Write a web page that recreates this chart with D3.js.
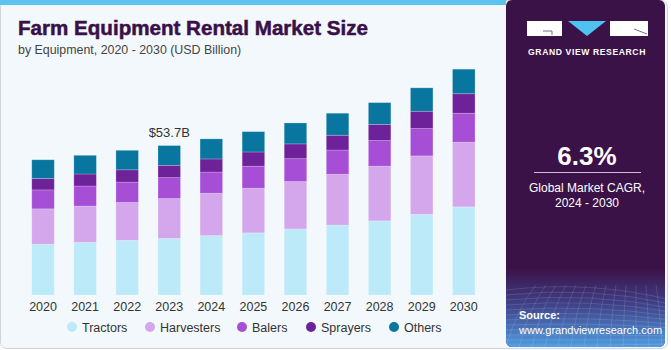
<!DOCTYPE html>
<html>
<head>
<meta charset="utf-8">
<script src="https://cdn.jsdelivr.net/npm/d3@7"></script>
<style>
  html, body { margin: 0; padding: 0; background: #ffffff; }
  svg { display: block; font-family: "Liberation Sans", Arial, sans-serif; }
</style>
</head>
<body>
<svg id="chart" width="671" height="350"></svg>
<script>
// chart data (USD Billion)
const years = ['2020', '2021', '2022', '2023', '2024', '2025', '2026', '2027', '2028', '2029', '2030'];
const segments = ['Tractors', 'Harvesters', 'Balers', 'Sprayers', 'Others'];
const tractors   = [18.2, 18.9, 19.6, 20.3, 21.3, 22.3, 23.7, 25.1, 26.6, 28.9, 31.6];
const harvesters = [12.7, 13.0, 13.6, 14.3, 15.2, 16.0, 17.0, 18.2, 19.6, 21.0, 23.2];
const balers     = [6.8, 7.2, 7.3, 7.5, 7.6, 7.9, 8.2, 8.7, 9.2, 9.8, 10.4];
const sprayers   = [4.1, 4.3, 4.4, 4.4, 4.7, 5.1, 5.3, 5.3, 5.8, 6.2, 7.0];
const others     = [6.7, 6.7, 7.0, 7.1, 7.2, 7.3, 7.5, 7.9, 7.8, 8.4, 8.8];
const colors = ['#bdeaf9', '#d4a7ec', '#a64fd6', '#6e2299', '#08769f'];
const annotation = { year: '2023', label: '$53.7B' };

const svg = d3.select('#chart');
const W = 671, H = 350;
const panelX = 506;

// ---- background panels ----
svg.append('rect')
  .attr('x', 0.5).attr('y', 0.5)
  .attr('width', W - 4).attr('height', H - 2)
  .attr('rx', 6)
  .attr('fill', '#f3f8fc')
  .attr('stroke', '#d0d4d8');

svg.append('rect')
  .attr('x', 0).attr('y', 0)
  .attr('width', panelX).attr('height', 5)
  .attr('fill', '#5bc5ef');

const defs = svg.append('defs');
const grad = defs.append('linearGradient')
  .attr('id', 'srcGrad')
  .attr('x1', 0).attr('y1', 0).attr('x2', 0).attr('y2', 1);
grad.append('stop').attr('offset', '0%').attr('stop-color', '#3b1248');
grad.append('stop').attr('offset', '45%').attr('stop-color', '#3f3f86');
grad.append('stop').attr('offset', '100%').attr('stop-color', '#4f9be0');

defs.append('clipPath').attr('id', 'panelClip')
  .append('rect')
  .attr('x', panelX).attr('y', 0)
  .attr('width', W - 6 - panelX).attr('height', 347)
  .attr('rx', 6);

const panel = svg.append('g').attr('clip-path', 'url(#panelClip)');
panel.append('rect')
  .attr('x', panelX).attr('y', 0)
  .attr('width', W - panelX).attr('height', 347)
  .attr('fill', '#3b1248');
panel.append('rect')
  .attr('x', panelX).attr('y', 268)
  .attr('width', W - panelX).attr('height', 79)
  .attr('fill', 'url(#srcGrad)');

// faint mesh over the source area
const mesh = panel.append('g')
  .attr('stroke', '#ffffff')
  .attr('stroke-opacity', 0.12)
  .attr('fill', 'none');
d3.range(0, 14).forEach(i => {
  mesh.append('path').attr('d', `M${panelX},${290 + i * 5} Q${590},${280 + i * 6} ${W},${300 + i * 4}`);
  mesh.append('path').attr('d', `M${panelX + i * 13},347 Q${panelX + 10 + i * 12},310 ${panelX + 30 + i * 10},285`);
});

// ---- logo ----
const logo = svg.append('g');
logo.append('rect').attr('x', 527).attr('y', 21).attr('width', 35).attr('height', 15).attr('fill', '#ffffff');
logo.append('path').attr('d', 'M543,31 H552 V35').attr('stroke', '#7a6a86').attr('stroke-width', 1).attr('fill', 'none');
logo.append('path').attr('d', 'M568,21 H606 L587,36 Z').attr('fill', '#4fc3f0');
logo.append('rect').attr('x', 610).attr('y', 21).attr('width', 38).attr('height', 15).attr('fill', '#ffffff');
logo.append('path').attr('d', 'M634,29 L647,34').attr('stroke', '#7a6a86').attr('stroke-width', 1);
logo.append('text')
  .attr('x', 587).attr('y', 55)
  .attr('text-anchor', 'middle')
  .attr('fill', '#ffffff')
  .attr('font-size', 8.6)
  .attr('font-weight', 'bold')
  .attr('letter-spacing', 0.6)
  .text('GRAND VIEW RESEARCH');

// ---- CAGR ----
svg.append('text')
  .attr('x', 587).attr('y', 165)
  .attr('text-anchor', 'middle')
  .attr('fill', '#ffffff')
  .attr('font-size', 26)
  .attr('font-weight', 'bold')
  .text('6.3%');
svg.append('line')
  .attr('x1', 534).attr('x2', 641)
  .attr('y1', 172.5).attr('y2', 172.5)
  .attr('stroke', '#c9bfd0').attr('stroke-width', 1);
svg.append('text')
  .attr('x', 587).attr('y', 192)
  .attr('text-anchor', 'middle')
  .attr('fill', '#ffffff')
  .attr('font-size', 12)
  .text('Global Market CAGR,');
svg.append('text')
  .attr('x', 587).attr('y', 207)
  .attr('text-anchor', 'middle')
  .attr('fill', '#ffffff')
  .attr('font-size', 12)
  .text('2024 - 2030');

// ---- source ----
svg.append('text')
  .attr('x', 519).attr('y', 319)
  .attr('fill', '#ffffff')
  .attr('font-size', 11)
  .attr('font-weight', 'bold')
  .text('Source:');
svg.append('text')
  .attr('x', 519).attr('y', 334)
  .attr('fill', '#ffffff')
  .attr('font-size', 11)
  .text('www.grandviewresearch.com');

// ---- titles ----
svg.append('text')
  .attr('x', 18).attr('y', 35)
  .attr('fill', '#3a1048')
  .attr('font-size', 20)
  .attr('font-weight', 'bold')
  .attr('stroke', '#3a1048')
  .attr('stroke-width', 0.5)
  .attr('textLength', 350)
  .attr('lengthAdjust', 'spacingAndGlyphs')
  .text('Farm Equipment Rental Market Size');
svg.append('text')
  .attr('x', 18).attr('y', 54)
  .attr('fill', '#444444')
  .attr('font-size', 12.4)
  .text('by Equipment, 2020 - 2030 (USD Billion)');

// ---- bars ----
const table = years.map((year, i) => ({
  year,
  Tractors: tractors[i],
  Harvesters: harvesters[i],
  Balers: balers[i],
  Sprayers: sprayers[i],
  Others: others[i]
}));

const x = d3.scaleBand()
  .domain(years)
  .range([22, 484.8])
  .paddingInner(0.465)
  .paddingOuter(0.2325);

const y = d3.scaleLinear()
  .domain([0, 80])
  .range([295, 295 - 80 * 2.788]);

const color = d3.scaleOrdinal().domain(segments).range(colors);

const series = d3.stack().keys(segments)(table);

const chartArea = svg.append('g').attr('class', 'chartArea');
chartArea.selectAll('g.layer')
  .data(series)
  .join('g')
  .attr('class', 'layer')
  .attr('fill', d => color(d.key))
  .selectAll('rect')
  .data(d => d)
  .join('rect')
  .attr('x', d => x(d.data.year))
  .attr('width', x.bandwidth())
  .attr('y', d => y(d[1]))
  .attr('height', d => y(d[0]) - y(d[1]))
  .attr('stroke', '#ffffff')
  .attr('stroke-opacity', 0.25)
  .attr('stroke-width', 0.8);

// annotation above 2023
const annIdx = years.indexOf(annotation.year);
const annTop = series[series.length - 1][annIdx][1];
svg.append('text')
  .attr('x', x(annotation.year) + x.bandwidth() / 2)
  .attr('y', y(annTop) - 9)
  .attr('text-anchor', 'middle')
  .attr('fill', '#333333')
  .attr('font-size', 13)
  .text(annotation.label);

// x axis
const xAxis = svg.append('g')
  .attr('transform', 'translate(0,295)')
  .call(d3.axisBottom(x).tickSize(0).tickPadding(7));
xAxis.select('.domain').remove();
xAxis.selectAll('text')
  .attr('fill', '#333333')
  .attr('font-size', 12.5)
  .attr('font-family', '"Liberation Sans", Arial, sans-serif');

// ---- legend ----
const legendX = [72, 150, 242, 311, 394];
const legend = svg.append('g').attr('class', 'legend');
segments.forEach((s, i) => {
  const row = legend.append('g').attr('transform', `translate(${legendX[i]}, 327)`);
  row.append('circle').attr('r', 5).attr('cy', 0).attr('fill', color(s));
  row.append('text')
    .attr('x', 10)
    .attr('y', 4.5)
    .attr('fill', '#333333')
    .attr('font-size', 12.5)
    .text(s);
});
</script>
</body>
</html>
